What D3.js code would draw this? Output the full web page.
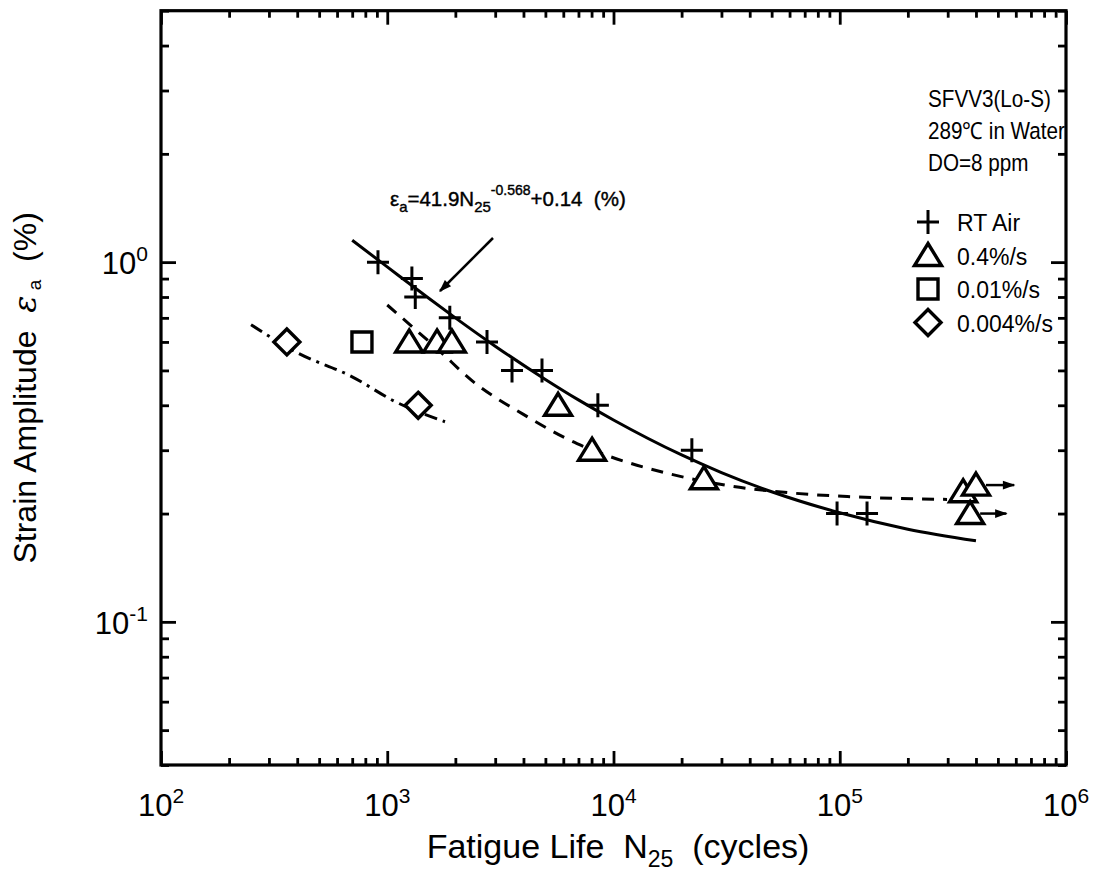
<!DOCTYPE html>
<html>
<head>
<meta charset="utf-8">
<script src="https://cdn.jsdelivr.net/npm/d3@7"></script>
<style>
  body { margin: 0; background: #fff; }
  text { font-family: "Liberation Sans", Arial, sans-serif; fill: #000; }
</style>
</head>
<body>
<svg id="chart" width="1102" height="877"></svg>
<script>
// ---- data ----
const xMajor = [1e2, 1e3, 1e4, 1e5, 1e6];
const xMajorExp = ["2", "3", "4", "5", "6"];
const yMajor = [0.1, 1];
const yMajorExp = ["-1", "0"];

// RT Air (+)
const rtAir = [[910, 1.0], [1285, 0.9], [1330, 0.8], [1890, 0.7], [2760, 0.6],
  [3560, 0.5], [4830, 0.5], [8530, 0.4], [22200, 0.3], [97300, 0.2], [132000, 0.2]];
// 0.4%/s (triangles)
const rate04 = [[1250, 0.6], [1660, 0.6], [1930, 0.6], [5690, 0.4], [8040, 0.3],
  [25100, 0.25], [351000, 0.23], [400000, 0.24], [377000, 0.2]];
// run-outs (start N, strain, arrow end N)
const runouts = [[400000, 0.24, 590000], [377000, 0.2, 545000]];
// 0.01%/s (square)
const rate001 = [[773, 0.6]];
// 0.004%/s (diamonds)
const rate0004 = [[360, 0.6], [1370, 0.4]];

// curves
const fitAir = [[700, 1.15], [1000, 0.97], [1500, 0.80], [2000, 0.70], [3000, 0.584],
  [5000, 0.472], [7000, 0.414], [10000, 0.364], [20000, 0.291], [30000, 0.260],
  [50000, 0.230], [100000, 0.201], [200000, 0.181], [400000, 0.168]];
const fit04 = [[1000, 0.76], [1710, 0.565], [2390, 0.466], [3980, 0.378], [6900, 0.313],
  [9660, 0.288], [17200, 0.259], [33700, 0.238], [62100, 0.228], [108000, 0.223], [298000, 0.219]];
const fit0004 = [[250, 0.67], [400, 0.56], [700, 0.48], [1080, 0.41], [1800, 0.36]];

const legendItems = ["RT Air", "0.4%/s", "0.01%/s", "0.004%/s"];
const legendSymbols = ["plus", "triangle", "square", "diamond"];
const headerLines = ["SFVV3(Lo-S)", "289\u2103 in Water", "DO=8 ppm"];

// ---- layout ----
const svg = d3.select("#chart");
const mLeft = 161, mRight = 1066, mTop = 10.7, mBottom = 765;

const x = d3.scaleLog().domain([1e2, 1e6]).range([mLeft, mRight]);
const y = d3.scaleLog().domain([0.04, 5]).range([mBottom, mTop]);

const isMajor = v => Math.abs(Math.log10(v) - Math.round(Math.log10(v))) < 1e-9;
const xMinor = x.ticks().filter(v => !isMajor(v));
const yMinor = y.ticks().filter(v => !isMajor(v));

// ticks (all pointing inward)
function tickGroup(axis, tx, ty) {
  const g = svg.append("g").attr("transform", `translate(${tx},${ty})`).call(axis);
  g.select(".domain").remove();
  g.selectAll(".tick line").attr("stroke", "#000").attr("stroke-width", 2.8);
  g.selectAll(".tick text").remove();
}
tickGroup(d3.axisBottom(x).tickValues(xMinor).tickSize(-7), 0, mBottom);
tickGroup(d3.axisBottom(x).tickValues(xMajor).tickSize(-14), 0, mBottom);
tickGroup(d3.axisTop(x).tickValues(xMinor).tickSize(-7), 0, mTop);
tickGroup(d3.axisTop(x).tickValues(xMajor).tickSize(-14), 0, mTop);
tickGroup(d3.axisLeft(y).tickValues(yMinor).tickSize(-8), mLeft, 0);
tickGroup(d3.axisLeft(y).tickValues(yMajor).tickSize(-15), mLeft, 0);
tickGroup(d3.axisRight(y).tickValues(yMinor).tickSize(-8), mRight, 0);
tickGroup(d3.axisRight(y).tickValues(yMajor).tickSize(-15), mRight, 0);

// frame
svg.append("rect")
  .attr("x", mLeft).attr("y", mTop)
  .attr("width", mRight - mLeft).attr("height", mBottom - mTop)
  .attr("fill", "none").attr("stroke", "#000").attr("stroke-width", 3.2);

// tick labels
xMajor.forEach((v, i) => {
  const t = svg.append("text").attr("x", x(v)).attr("y", 816)
    .attr("text-anchor", "middle").attr("font-size", 31);
  t.append("tspan").text("10");
  t.append("tspan").attr("dy", -13).attr("font-size", 21).text(xMajorExp[i]);
});
yMajor.forEach((v, i) => {
  const t = svg.append("text").attr("x", 148).attr("y", y(v) + 12)
    .attr("text-anchor", "end").attr("font-size", 31);
  t.append("tspan").text("10");
  t.append("tspan").attr("dy", -13).attr("font-size", 21).text(yMajorExp[i]);
});

// axis titles
const xt = svg.append("text").attr("x", 618).attr("y", 858)
  .attr("text-anchor", "middle").attr("font-size", 34).style("white-space", "pre");
xt.append("tspan").text("Fatigue Life  N");
xt.append("tspan").attr("dy", 9).attr("font-size", 23).text("25");
xt.append("tspan").attr("dy", -9).text("  (cycles)");

const yt = svg.append("text")
  .attr("transform", `translate(36,${(mTop + mBottom) / 2}) rotate(-90)`)
  .attr("text-anchor", "middle").attr("font-size", 32).style("white-space", "pre");
yt.append("tspan").text("Strain Amplitude  ");
yt.append("tspan").attr("font-family", "DejaVu Serif, serif").attr("font-style", "italic").text("\u03b5");
yt.append("tspan").attr("dy", 5).attr("font-size", 19).text(" a");
yt.append("tspan").attr("dy", -5).text("  (%)");

// curves
const line = d3.line().x(d => x(d[0])).y(d => y(d[1])).curve(d3.curveMonotoneX);
svg.append("path").datum(fitAir).attr("d", line)
  .attr("fill", "none").attr("stroke", "#000").attr("stroke-width", 3);
svg.append("path").datum(fit04).attr("d", line)
  .attr("fill", "none").attr("stroke", "#000").attr("stroke-width", 3)
  .attr("stroke-dasharray", "12,9");
svg.append("path").datum(fit0004).attr("d", line)
  .attr("fill", "none").attr("stroke", "#000").attr("stroke-width", 3)
  .attr("stroke-dasharray", "13,6,3,6");

// markers
function symbolPath(kind) {
  if (kind === "plus") return "M-11,0H11M0,-12V12";
  if (kind === "triangle") return "M0,-12L13.5,10H-13.5Z";
  if (kind === "square") return "M-10,-10H10V10H-10Z";
  return "M0,-13L13,0L0,13L-13,0Z";
}
function drawMarkers(data, kind) {
  svg.append("g").selectAll("path").data(data).join("path")
    .attr("transform", d => `translate(${x(d[0])},${y(d[1])})`)
    .attr("d", symbolPath(kind))
    .attr("fill", kind === "plus" ? "none" : "#fff")
    .attr("stroke", "#000").attr("stroke-width", kind === "plus" ? 3 : 3.4)
    .attr("stroke-linejoin", "miter");
}
drawMarkers(rtAir, "plus");
drawMarkers(rate04, "triangle");
drawMarkers(rate001, "square");
drawMarkers(rate0004, "diamond");

// run-out arrows
svg.append("defs").append("marker")
  .attr("id", "ah").attr("viewBox", "0 0 10 10").attr("refX", 9).attr("refY", 5)
  .attr("markerWidth", 6).attr("markerHeight", 5).attr("orient", "auto")
  .attr("markerUnits", "strokeWidth")
  .append("path").attr("d", "M0,1.5L10,5L0,8.5Z").attr("fill", "#000");
svg.append("g").selectAll("line").data(runouts).join("line")
  .attr("x1", d => x(d[0]) + 10).attr("y1", d => y(d[1]))
  .attr("x2", d => x(d[2])).attr("y2", d => y(d[1]))
  .attr("stroke", "#000").attr("stroke-width", 2.5)
  .attr("marker-end", "url(#ah)");

// equation annotation
const eq = svg.append("text").attr("x", 390).attr("y", 206)
  .attr("font-size", 20.5).attr("stroke", "#000").attr("stroke-width", 0.4);
eq.append("tspan").text("\u03b5");
eq.append("tspan").attr("dy", 6).attr("font-size", 15).text("a");
eq.append("tspan").attr("dy", -6).text("=41.9N");
eq.append("tspan").attr("dy", 6).attr("font-size", 15).text("25");
eq.append("tspan").attr("dy", -17).attr("font-size", 14).text("-0.568");
eq.append("tspan").attr("dy", 11).style("white-space", "pre").text("+0.14  (%)");

svg.append("line")
  .attr("x1", 493).attr("y1", 238).attr("x2", 440).attr("y2", 291)
  .attr("stroke", "#000").attr("stroke-width", 2.5)
  .attr("marker-end", "url(#ah)");

// header text + legend
headerLines.forEach((s, i) => {
  svg.append("text")
    .attr("transform", `translate(928,${107 + i * 32}) scale(0.88,1)`)
    .attr("font-size", 23.5).text(s);
});
legendItems.forEach((s, i) => {
  const cy = 222 + i * 33.5;
  svg.append("path").attr("transform", `translate(928,${cy})`)
    .attr("d", symbolPath(legendSymbols[i]))
    .attr("fill", "none").attr("stroke", "#000")
    .attr("stroke-width", legendSymbols[i] === "plus" ? 3 : 3.4);
  svg.append("text").attr("x", 957).attr("y", cy + 9)
    .attr("font-size", 23).text(s);
});
</script>
</body>
</html>
